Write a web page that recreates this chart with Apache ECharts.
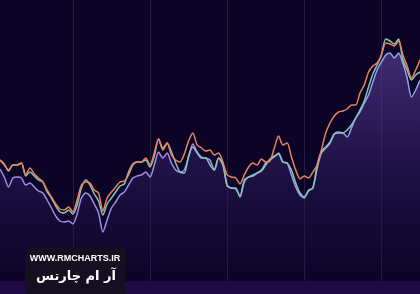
<!DOCTYPE html>
<html>
<head>
<meta charset="utf-8">
<script src="https://cdn.jsdelivr.net/npm/echarts@6/dist/echarts.min.js"></script>
<style>
html,body{margin:0;padding:0;background:#0c0427;}
#c{width:420px;height:294px;}
</style>
</head>
<body>
<div id="c"></div>
<script>
// Values (height above the bottom edge, px-equivalent units)
const orangeY = [160,165,170,165,165,163,175,168,174,178,182,190,197,204,209,210,207,212,200,185,182,183,190,193,211,198,192,187,182,181,175,165,162,162,158,165,153,139,150,143,155,160,162,154,141,133,145,148,151,150,155,153,162,175,177,178,184,175,167,163,165,159,162,161,148,136,145,143,157,170,179,176,178,172,165,150,133,123,116,112,111,109,105,105,93,85,72,66,63,55,43,44,46,41,55,66,78,70,60];
const tealY = [160,164,171,165,165,163,176,172,176,180,182,192,198,206,212,213,210,214,205,188,180,185,194,201,215,204,198,192,186,184,172,164,162,162,160,167,156,139,148,143,152,163,172,173,156,147,153,158,158,165,170,158,165,185,188,188,197,182,177,176,173,171,165,159,156,154,162,163,170,183,193,197,191,188,168,153,148,143,134,132,133,130,125,118,110,101,87,74,65,55,39,41,44,39,60,70,80,75,72];
const purpleY = [169,177,187,178,177,178,185,183,187,191,193,200,208,216,221,222,221,224,214,198,193,196,204,213,232,220,208,202,195,192,185,178,176,175,172,177,165,152,158,153,163,170,172,170,157,144,152,157,158,160,170,158,163,186,188,189,196,180,177,175,173,170,163,160,157,153,162,163,175,187,195,198,190,188,165,151,147,142,134,133,133,137,128,118,112,103,95,82,70,62,55,53,58,53,63,78,97,90,80];
const H = 294;
const toVal = a => a.map(y => H - y);
const orange = toVal(orangeY), teal = toVal(tealY), purple = toVal(purpleY);
const categories = orange.map((_, i) => 'D' + (i + 1));
const watermark = 'WWW.RMCHARTS.IR';
const brand = 'آر ام چارتس';

const chart = echarts.init(document.getElementById('c'));
chart.setOption({
  backgroundColor: '#0c0427',
  animation: false,
  grid: {left: 0, right: 0, top: 0, bottom: 0},
  xAxis: {
    type: 'category', data: categories, boundaryGap: false,
    axisLine: {show: false}, axisTick: {show: false}, axisLabel: {show: false},
    splitLine: {show: true, interval: (i) => i % 18 === 17, lineStyle: {color: '#241c42', width: 1}}
  },
  yAxis: {
    type: 'value', min: 0, max: H,
    axisLine: {show: false}, axisTick: {show: false}, axisLabel: {show: false},
    splitLine: {show: false}
  },
  series: [
    {
      name: 'C', type: 'line', data: purple, showSymbol: false, smooth: 0.25, z: 2,
      lineStyle: {width: 1.5, color: new echarts.graphic.LinearGradient(0, 0, 1, 0, [
        {offset: 0, color: '#a486ea'}, {offset: 0.5, color: '#9a92e6'}, {offset: 1, color: '#8fa8e8'}])},
      areaStyle: {color: new echarts.graphic.LinearGradient(0, 0, 0, 1, [
        {offset: 0, color: 'rgba(104,74,175,0.8)'},
        {offset: 0.45, color: 'rgba(62,40,120,0.6)'},
        {offset: 0.8, color: 'rgba(30,18,70,0.4)'},
        {offset: 1, color: 'rgba(12,4,39,0)'}])}
    },
    {
      name: 'B', type: 'line', data: teal, showSymbol: false, smooth: 0.25, z: 3,
      lineStyle: {width: 1.5, color: '#86c6b6'}
    },
    {
      name: 'A', type: 'line', data: orange, showSymbol: false, smooth: 0.25, z: 4,
      lineStyle: {width: 1.5, color: '#e8845c'}
    }
  ],
  graphic: [
    {type: 'rect', left: 0, top: 281, shape: {width: 420, height: 13}, style: {fill: '#1f0a46'}, z: 50},
    {type: 'rect', left: 25, top: 247, shape: {width: 100, height: 50, r: 3}, style: {fill: 'rgba(22,16,30,0.92)'}, z: 60},
    {type: 'text', x: 75, y: 259, style: {text: watermark, fill: '#ffffff', font: 'bold 9px "Liberation Sans", Arial, sans-serif', align: 'center', verticalAlign: 'middle'}, z: 61},
    {type: 'text', x: 76, y: 277, style: {text: brand, fill: '#ffffff', font: 'bold 13px "DejaVu Sans", sans-serif', align: 'center', verticalAlign: 'middle'}, z: 61}
  ]
});
</script>
</body>
</html>
